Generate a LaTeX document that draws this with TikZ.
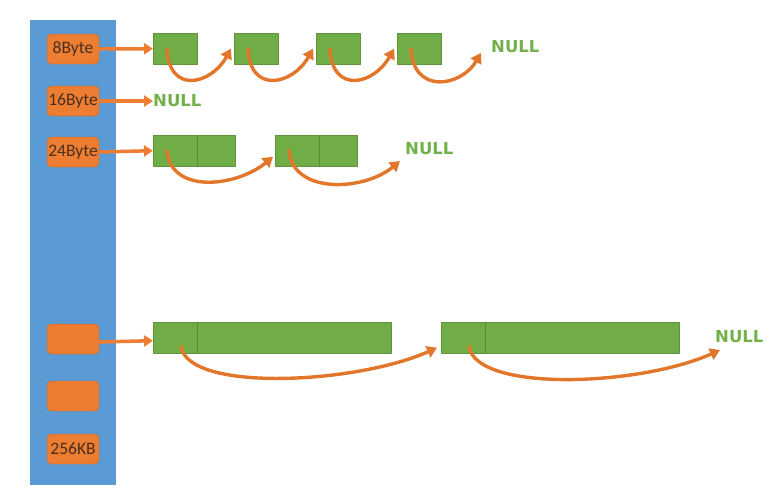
\documentclass[tikz,border=0pt]{standalone}
\usepackage{fontspec}
\setmainfont{Carlito}
\newfontfamily\nulltxt{DejaVu Sans}
\usetikzlibrary{arrows.meta}
\definecolor{barblue}{HTML}{5B9BD5}
\definecolor{sizeorange}{HTML}{ED7D31}
\definecolor{linkorange}{HTML}{E2772C}
\definecolor{cellgreen}{HTML}{70AD47}
\definecolor{nullgreen}{HTML}{72B04A}
\definecolor{labeltext}{HTML}{4A3020}
\tikzset{
  sizebox/.style={fill=sizeorange, draw=sizeorange!80!black, rounded corners=4pt,
    minimum width=52pt, minimum height=30pt, inner sep=0pt,
    font=\fontsize{17.5}{18}\selectfont, text=labeltext},
  block/.style={fill=cellgreen, draw=cellgreen!85!black, minimum height=31pt,
    inner sep=0pt, anchor=north west},
  nullnode/.style={font=\nulltxt\bfseries\fontsize{16.5}{18}\selectfont, text=nullgreen, inner sep=0pt},
  headarrow/.style={draw=sizeorange, line width=3.5pt, -{Triangle[length=9pt,width=11pt]}},
  link/.style={draw=linkorange, line width=3.4pt, -{Triangle[length=10pt,width=12pt]}}
}
\begin{document}
\begin{tikzpicture}[x=1pt,y=-1pt, line join=round, line cap=round]
\useasboundingbox (0,0) rectangle (774,501);
%\draw[thin,color=gray!50] (0,0) grid[step=50] (774,501);
\fill[barblue] (30,20) rectangle (116,485);
\node[sizebox] (s8) at (73,49) {8Byte};
\node[sizebox] (s16) at (73,101) {16Byte};
\node[sizebox] (s24) at (73,152) {24Byte};
\node[sizebox] (sx) at (73,339) {};
\node[sizebox] (sy) at (73,396) {};
\node[sizebox] (s256) at (73,449) {256KB};
% 8Byte list
\node[block, minimum width=44pt] (a1) at (153,33) {};
\node[block, minimum width=44pt] (a2) at (234,33) {};
\node[block, minimum width=44pt] (a3) at (316,33) {};
\node[block, minimum width=44pt] (a4) at (397,33) {};
\node[nullnode, anchor=west] (n8) at (491,47) {NULL};
% 16Byte
\node[nullnode, anchor=west] (n16) at (153,101) {NULL};
% 24Byte list
\node[block, minimum width=82pt] (b1) at (153,135) {};
\node[block, minimum width=82pt] (b2) at (275,135) {};
\node[nullnode, anchor=west] (n24) at (405,149) {NULL};
% 256KB list
\node[block, minimum width=238pt] (c1) at (153,322) {};
\node[block, minimum width=238pt] (c2) at (441,322) {};
\node[nullnode, anchor=west] (nx) at (715,337) {NULL};
\foreach \b in {b1,b2,c1,c2}
  \draw[cellgreen!80!black] ([xshift=44pt]\b.north west)--([xshift=44pt]\b.south west);
% heads
\draw[headarrow] (s8.east)--(a1.west);
\draw[headarrow] (s16.east)--(n16.west);
\draw[headarrow] (s24.east)--(b1.west);
\draw[headarrow] ([yshift=-3pt]sx.east)--([yshift=-3pt]c1.west);
% next links
\foreach \i/\j in {a1/a2,a2/a3,a3/a4}
  \draw[link] ([xshift=14pt]\i.west) .. controls +(2,46) and +(-20,36) .. ([xshift=-3pt]\j.west);
\draw[link] ([xshift=14pt]a4.west) .. controls +(2,46) and +(-20,34) .. ([xshift=-10pt,yshift=-6pt]n8.west);
\draw[link] ([xshift=14pt]b1.west) .. controls +(4,44) and +(-36,30) .. ([xshift=-2pt,yshift=-6pt]b2.west);
\draw[link] ([xshift=14pt]b2.west) .. controls +(4,44) and +(-36,30) .. ([xshift=-5pt,yshift=-12pt]n24.west);
\draw[link] ([xshift=28pt,yshift=-9pt]c1.west) .. controls +(8,46) and +(-80,36) .. ([xshift=-4pt,yshift=-10pt]c2.west);
\draw[link] ([xshift=28pt,yshift=-9pt]c2.west) .. controls +(8,46) and +(-80,36) .. ([xshift=5pt,yshift=-13pt]nx.west);
\end{tikzpicture}
\end{document}
